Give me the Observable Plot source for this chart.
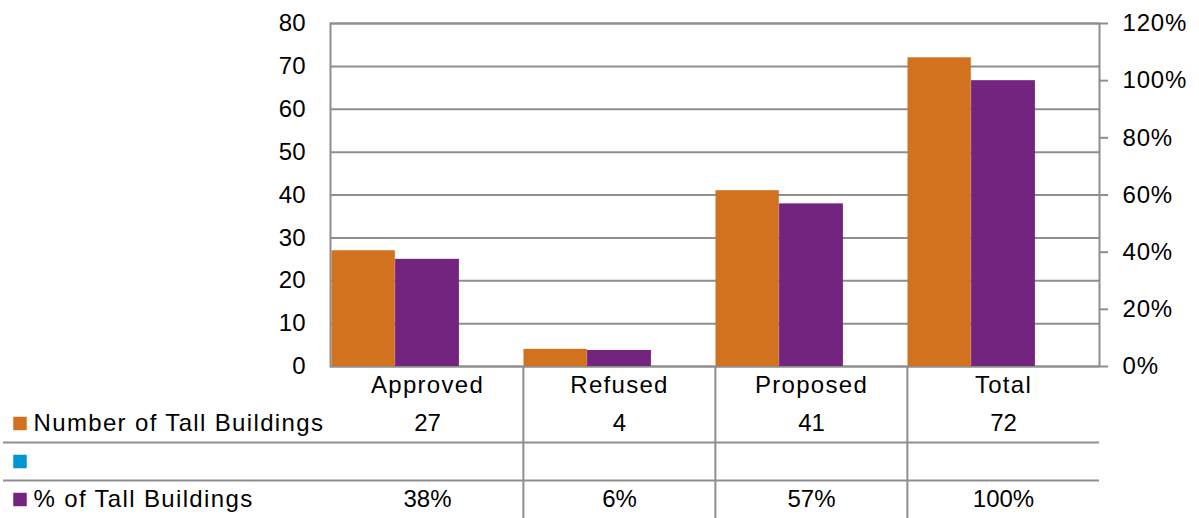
<!DOCTYPE html>
<html>
<head>
<meta charset="utf-8">
<script src="https://cdn.jsdelivr.net/npm/d3@7"></script>
<script src="https://cdn.jsdelivr.net/npm/@observablehq/plot@0.6"></script>
<style>
  html, body { margin: 0; padding: 0; background: white; }
  #wrap { position: relative; width: 1199px; height: 518px; overflow: hidden; }
  #wrap svg { position: absolute; left: 0; }
</style>
</head>
<body>
<div id="wrap"></div>
<script>
// ---- data ----
const categories = ["Approved", "Refused", "Proposed", "Total"];
const numberOfTallBuildings = [27, 4, 41, 72];
const percentOfTallBuildings = [37.5, 5.6, 56.9, 100];
const leftTicks = [0, 10, 20, 30, 40, 50, 60, 70, 80];
const rightTicks = [0, 20, 40, 60, 80, 100, 120];
const seriesNames = ["Number of Tall Buildings", "", "% of Tall Buildings"];
const rowKeys = ["cat", "num", "blank", "pct"];

const colors = {num: "#D2711E", blank: "#0096D6", pct: "#72247E"};
const gray = "#8E8E8E";
const font = "'Liberation Sans', Arial, sans-serif";

const rows = categories.map((c, i) => ({
  category: c,
  num: numberOfTallBuildings[i],
  pct: percentOfTallBuildings[i]
}));

const W = 1199, mL = 330, mR = 100;
const band = (W - mL - mR) / categories.length;
const third = band / 3;

// ---- chart ----
const chart = Plot.plot({
  width: W,
  height: 380,
  marginTop: 23,
  marginBottom: 14,
  marginLeft: mL,
  marginRight: mR,
  style: {fontFamily: font, fontSize: "24px", color: "black", background: "white", overflow: "visible"},
  x: {type: "band", domain: categories, padding: 0, axis: null},
  y: {domain: [0, 80]},
  marks: [
    Plot.gridY(leftTicks, {stroke: gray, strokeOpacity: 1, strokeWidth: 2}),
    Plot.frame({stroke: gray, strokeWidth: 2}),
    Plot.barY(rows, {x: "category", y: "num", fill: colors.num, insetLeft: 0.5, insetRight: 2 * third}),
    Plot.barY(rows, {x: "category", y: d => d.pct * 80 / 120, fill: colors.pct, insetLeft: third, insetRight: third}),
    Plot.axisY(leftTicks, {anchor: "left", tickSize: 0, tickPadding: 25, label: null, fontSize: 24}),
    Plot.axisY(rightTicks.map(p => p * 80 / 120), {
      anchor: "right", tickSize: 8, tickPadding: 15, stroke: gray, strokeWidth: 2,
      label: null, fontSize: 24, tickFormat: d => Math.round(d * 120 / 80) + "%"
    })
  ]
});
chart.style.top = "0px";

// ---- data table ----
const catText = rows.map(r => ({category: r.category, row: "cat", label: r.category}));
const valueText = [];
rows.forEach(r => {
  valueText.push({category: r.category, row: "num", label: String(r.num)});
  valueText.push({category: r.category, row: "pct", label: Math.round(r.pct) + "%"});
});
const legendRows = [
  {row: "num", name: seriesNames[0], color: colors.num},
  {row: "blank", name: seriesNames[1], color: colors.blank},
  {row: "pct", name: seriesNames[2], color: colors.pct}
];

const table = Plot.plot({
  width: W,
  height: 152,
  marginTop: 0,
  marginBottom: 0,
  marginLeft: 0,
  marginRight: mR,
  style: {fontFamily: font, fontSize: "24px", color: "black", background: "transparent"},
  x: {type: "band", domain: categories, padding: 0, range: [mL, W - mR], axis: null},
  y: {type: "band", domain: rowKeys, padding: 0, axis: null},
  marks: [
    Plot.ruleY(["blank", "pct"], {y: d => d, dy: -19, stroke: gray, strokeWidth: 2, insetLeft: 3}),
    Plot.ruleX(categories.slice(1), {x: d => d, dx: -band / 2, stroke: gray, strokeWidth: 2}),
    Plot.text(catText, {x: "category", y: "row", text: "label", fontSize: 24}),
    Plot.text(valueText, {x: "category", y: "row", text: "label", fontSize: 24}),
    Plot.dot(legendRows, {y: "row", frameAnchor: "left", dx: 19.5, symbol: "square", r: 7.6, fill: "color", stroke: null}),
    Plot.text(legendRows, {y: "row", text: "name", frameAnchor: "left", dx: 33, textAnchor: "start", fontSize: 24})
  ]
});
table.style.top = "366px";

// Excel-like wider glyph advances for word labels
d3.select(table).selectAll("text").each(function() {
  const t = this.textContent;
  if (categories.includes(t)) this.style.letterSpacing = "1.3px";
  else if (seriesNames.includes(t)) this.style.letterSpacing = "1.35px";
});
d3.select(chart).selectAll("text").each(function() {
  if (this.textContent.endsWith("%")) this.style.letterSpacing = "0.8px";
});

const wrap = document.getElementById("wrap");
wrap.appendChild(chart);
wrap.appendChild(table);
</script>
</body>
</html>
